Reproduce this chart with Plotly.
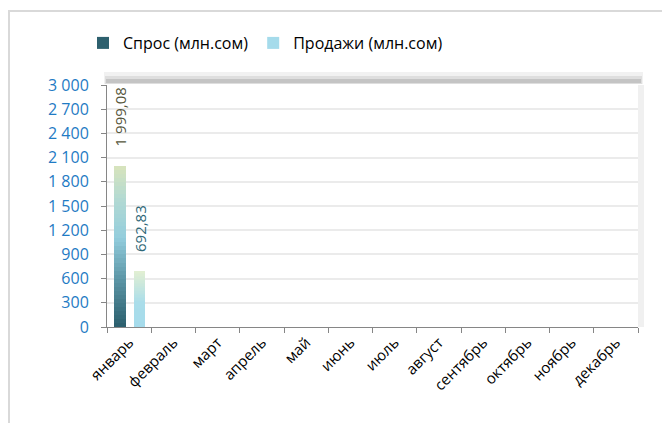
import plotly.graph_objects as go

# data
months = ["январь", "февраль", "март", "апрель", "май", "июнь",
          "июль", "август", "сентябрь", "октябрь", "ноябрь", "декабрь"]
demand = [1999.08, None, None, None, None, None, None, None, None, None, None, None]
sales = [692.83, None, None, None, None, None, None, None, None, None, None, None]
y_ticks = [0, 300, 600, 900, 1200, 1500, 1800, 2100, 2400, 2700, 3000]

FONT = "Open Sans"
N_SLICES = 40  # bars are drawn in thin slices to fake the excel gradient fill

# gradient stops (bottom -> top)
demand_stops = [(0.0, (0x2B, 0x5E, 0x6C)), (0.3, (0x5C, 0x96, 0xA6)),
                (0.55, (0x93, 0xCD, 0xDD)), (0.8, (0xB4, 0xDA, 0xD2)),
                (1.0, (0xD8, 0xE4, 0xBC))]
sales_stops = [(0.0, (0xA5, 0xDB, 0xEB)), (0.45, (0xAA, 0xDD, 0xEA)),
               (1.0, (0xE2, 0xEF, 0xD2))]

# the page puts the figure 8px in from the top-left corner, so margins are
# measured from there
OFF = 8
W, H = 670, 423
L, R, T, B = 107 - OFF, 32 + OFF, 85 - OFF, 96 + OFF
PW, PH = W - L - R, H - T - B
CAT_PX = PW / len(months)


def px(dx):
    return dx / PW


def py(dy):
    return dy / PH


def grad_color(stops, t):
    for (t0, c0), (t1, c1) in zip(stops[:-1], stops[1:]):
        if t <= t1:
            f = (t - t0) / (t1 - t0) if t1 > t0 else 0
            c = [round(a + (b - a) * f) for a, b in zip(c0, c1)]
            return "rgb(%d,%d,%d)" % tuple(c)
    return "rgb(%d,%d,%d)" % stops[-1][1]


fig = go.Figure()
annotations = []


def add_gradient_bar(values, name, stops, offset, width, label_color):
    for k in range(N_SLICES):
        base = [v * k / N_SLICES if v is not None else None for v in values]
        height = [v / N_SLICES if v is not None else None for v in values]
        fig.add_trace(go.Bar(
            x=months, y=height, base=base, name=name,
            legendgroup=name, showlegend=(k == 0),
            offset=offset, width=width,
            marker=dict(color=grad_color(stops, (k + 0.5) / N_SLICES), line=dict(width=0)),
            hoverinfo="skip",
        ))
    # value labels, rotated, a bit above the bar like excel does
    for m, v in zip(months, values):
        if v is None:
            continue
        annotations.append(dict(
            x=m, y=v, xref="x", yref="y", text=f"{v:,.2f}".replace(",", " ").replace(".", ","),
            showarrow=False, textangle=-90, xanchor="center", yanchor="bottom",
            xshift=(offset + width / 2) * CAT_PX, yshift=17,
            font=dict(family=FONT, size=15, color=label_color),
        ))


add_gradient_bar(demand, "Спрос (млн.сом)", demand_stops, -0.335, 0.265, "#55553A")
add_gradient_bar(sales, "Продажи (млн.сом)", sales_stops, 0.1, 0.265, "#2F6878")

shapes = [
    # outer chart border
    dict(type="rect", xref="paper", yref="paper", x0=px(9 - 107), x1=2, y0=-2, y1=1 + py(85 - 11),
         line=dict(color="#D9D9D9", width=2), fillcolor="rgba(0,0,0,0)", layer="below"),
    # soft shadow on top and right of the plot area
    dict(type="rect", xref="paper", yref="paper", x0=px(-3), x1=1 + px(5), y0=1 + py(1), y1=1 + py(13),
         line=dict(width=0), fillcolor="#F1F1F1", layer="below"),
    dict(type="rect", xref="paper", yref="paper", x0=px(-2), x1=1 + px(4), y0=1 + py(1), y1=1 + py(9),
         line=dict(width=0), fillcolor="#DEDEDE", layer="below"),
    dict(type="rect", xref="paper", yref="paper", x0=px(-1), x1=1 + px(3), y0=1 + py(2), y1=1 + py(6),
         line=dict(width=0), fillcolor="#C4C4C4", layer="below"),
    dict(type="rect", xref="paper", yref="paper", x0=1, x1=1 + px(6), y0=0, y1=1,
         line=dict(width=0), fillcolor="#F0F0F0", layer="below"),
]

fig.update_layout(
    width=W, height=H,
    margin=dict(l=L, r=R, t=T, b=B, autoexpand=False),
    paper_bgcolor="white", plot_bgcolor="white",
    barmode="overlay", bargap=0,
    separators=", ",
    font=dict(family=FONT, size=16, color="black"),
    legend=dict(orientation="h", x=px(83 - 107), y=1 + py(85 - 43), xanchor="left", yanchor="middle",
                font=dict(family=FONT, size=16, color="black"),
                itemclick=False, itemdoubleclick=False),
    shapes=shapes,
    annotations=annotations,
    showlegend=True,
)

fig.update_xaxes(
    type="category", categoryorder="array", categoryarray=months,
    range=[-0.5, 11.5],
    tickangle=-45, tickson="boundaries", ticks="outside", ticklen=5, tickcolor="#868686",
    showline=True, linecolor="#868686", linewidth=1,
    showgrid=False, tickfont=dict(family=FONT, size=15, color="black"),
)
fig.update_yaxes(
    range=[0, 3000], tickvals=y_ticks, tickformat=",d",
    ticks="outside", ticklen=5, tickcolor="#868686", ticklabelstandoff=9,
    showline=True, linecolor="#868686", linewidth=1,
    showgrid=True, gridcolor="#EBEBEB", gridwidth=2,
    zeroline=False,
    tickfont=dict(family=FONT, size=16, color="#1F7BC4"),
)

fig.write_html("out.html")
